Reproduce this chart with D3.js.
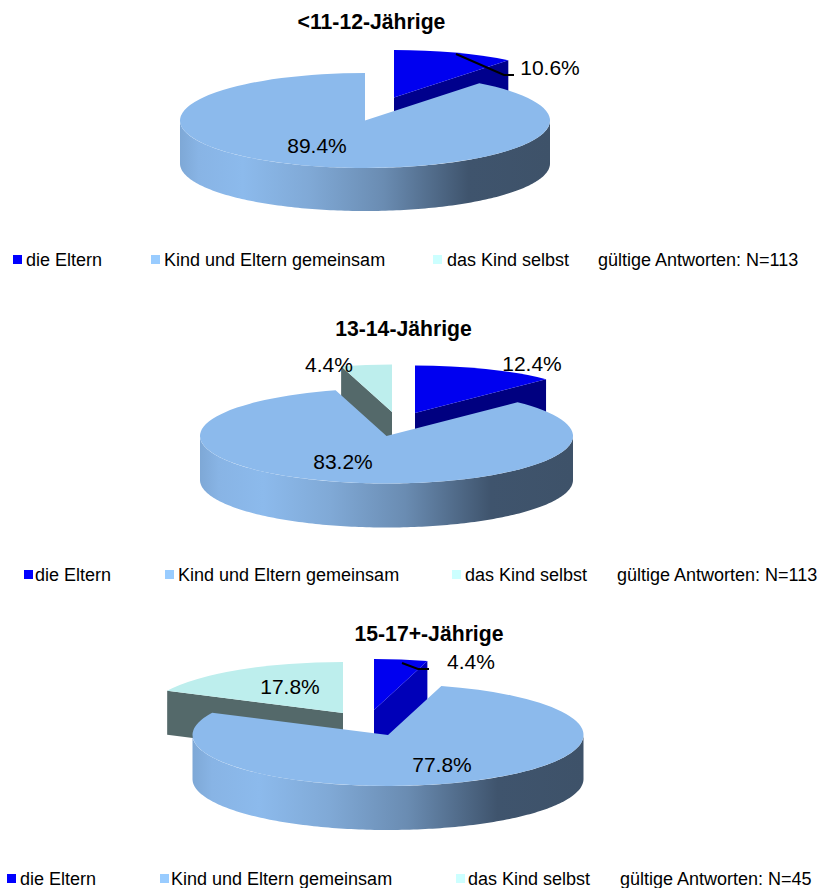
<!DOCTYPE html>
<html lang="de">
<head>
<meta charset="utf-8">
<title>Wer entscheidet</title>
<script src="https://d3js.org/d3.v7.min.js"></script>
<style>
  html, body { margin: 0; padding: 0; background: #fff; }
  svg { display: block; }
  text { font-family: "Liberation Sans", Arial, sans-serif; fill: #000; }
  .title { font-size: 21.2px; font-weight: bold; text-anchor: middle; }
  .pct { font-size: 21px; text-anchor: middle; }
  .legend { font-size: 18px; }
</style>
</head>
<body>
<svg id="chart" width="818" height="888"></svg>
<script>
// data
const categories = ["die Eltern", "Kind und Eltern gemeinsam", "das Kind selbst"];
const titles = ["<11-12-Jährige", "13-14-Jährige", "15-17+-Jährige"];
const valuesYoung = [10.6, 89.4, 0];
const valuesMiddle = [12.4, 83.2, 4.4];
const valuesOld = [4.4, 77.8, 17.8];
const answerCounts = [113, 113, 45];

// colours
const topColors = ["#0000f0", "#8cbaec", "#bdeeed"];
const cutColors = [["#00008c", "#8cbaec", "#54696a"], ["#000080", "#8cbaec", "#54696a"], ["#0000b8", "#8cbaec", "#54696a"]];
const swatchColors = ["#0000ff", "#99ccff", "#ccffff"];

// layout of the three pies: centre of big slice, radii, depth, offset of the pulled out slices
const pies = [
  { values: valuesYoung, cx: 365, cy: 120.5, rx: 185, ry: 47.5, depth: 43, titleX: 371.5, titleY: 29,
    offsets: [[29, -23], [0, 0], [0, 0]],
    labels: [[550, 75], [317, 153], null],
    leaders: [[[456, 54], [504, 75], [514, 75]]],
    swatchX: [13, 151, 433], textX: [26, 164, 447], noteX: 598, legendY: 266 },
  { values: valuesMiddle, cx: 386.5, cy: 436, rx: 186.5, ry: 47.5, depth: 44, titleX: 403.5, titleY: 336,
    offsets: [[28.5, -23], [0, 0], [5.5, -24]],
    labels: [[532, 371], [343, 469], [329, 372]],
    leaders: [],
    swatchX: [24, 165, 452], textX: [35, 178, 465], noteX: 617, legendY: 581 },
  { values: valuesOld, cx: 388, cy: 735, rx: 195.5, ry: 51, depth: 44, titleX: 429, titleY: 641,
    offsets: [[-14, -25], [0, 0], [-45, -22]],
    labels: [[471, 669], [442, 772], [290, 694]],
    leaders: [[[402, 663], [418, 669], [429, 669]]],
    swatchX: [7, 160, 456], textX: [20, 171, 468], noteX: 620, legendY: 885 }
];

const svg = d3.select("#chart");
const defs = svg.append("defs");

// side wall shading, runs left to right over the whole big slice
const grad = defs.append("linearGradient").attr("id", "wall");
[[0, "#7ea8d6"], [0.05, "#88b4e5"], [0.17, "#8cbaec"], [0.35, "#80a9d6"], [0.55, "#6a8cb2"], [0.78, "#3f546d"], [1, "#3e5269"]]
  .forEach(s => grad.append("stop").attr("offset", s[0]).attr("stop-color", s[1]));

const pie = d3.pie().sort(null).value(d => d);
const line = d3.line();
const clampFront = [Math.PI / 2, Math.PI * 3 / 2];

function drawPie(p, pieIndex) {
  const g = svg.append("g");
  const k = p.ry / p.rx;
  const arc = d3.arc().innerRadius(0).outerRadius(p.rx);
  const px = a => p.rx * Math.sin(a);
  const py = a => -p.ry * Math.cos(a);

  const slices = pie(p.values)
    .filter(s => s.value > 0)
    .sort((a, b) => a.value - b.value);

  slices.forEach(s => {
    const off = p.offsets[s.index];
    const sg = g.append("g").attr("transform", `translate(${p.cx + off[0]},${p.cy + off[1]})`);

    // radial cut faces that look towards the viewer
    [[s.endAngle, 1], [s.startAngle, -1]].forEach(([a, side]) => {
      if (Math.sin(a) * side > 0.01) {
        sg.append("path").attr("fill", cutColors[pieIndex][s.index])
          .attr("d", line([[0, 0], [px(a), py(a)], [px(a), py(a) + p.depth], [0, p.depth]]) + "Z");
      }
    });

    // outer wall, only the front half shows
    const a0 = Math.max(s.startAngle, clampFront[0]);
    const a1 = Math.min(s.endAngle, clampFront[1]);
    if (a1 > a0) {
      const angles = d3.range(a0, a1, 0.02).concat([a1]);
      const lower = angles.map(a => [px(a), py(a) + p.depth]);
      const upper = angles.slice().reverse().map(a => [px(a), py(a)]);
      sg.append("path").attr("fill", "url(#wall)").attr("d", line(lower.concat(upper)) + "Z");
    }

    // top face
    sg.append("path").attr("transform", `scale(1,${k})`)
      .attr("fill", topColors[s.index]).attr("d", arc(s));
  });

  p.leaders.forEach(l => {
    g.append("path").attr("fill", "none").attr("stroke", "#000").attr("stroke-width", 2).attr("d", line(l));
  });

  p.values.forEach((v, i) => {
    if (v > 0) {
      g.append("text").attr("class", "pct")
        .attr("x", p.labels[i][0]).attr("y", p.labels[i][1])
        .text(v.toFixed(1) + "%");
    }
  });

  svg.append("text").attr("class", "title").attr("x", p.titleX).attr("y", p.titleY).text(titles[pieIndex]);

  categories.forEach((c, i) => {
    svg.append("rect").attr("x", p.swatchX[i]).attr("y", p.legendY - 11).attr("width", 9).attr("height", 9)
      .attr("fill", swatchColors[i]);
    svg.append("text").attr("class", "legend").attr("x", p.textX[i]).attr("y", p.legendY).text(c);
  });
  svg.append("text").attr("class", "legend").attr("x", p.noteX).attr("y", p.legendY)
    .text("gültige Antworten: N=" + answerCounts[pieIndex]);
}

pies.forEach(drawPie);
</script>
</body>
</html>
